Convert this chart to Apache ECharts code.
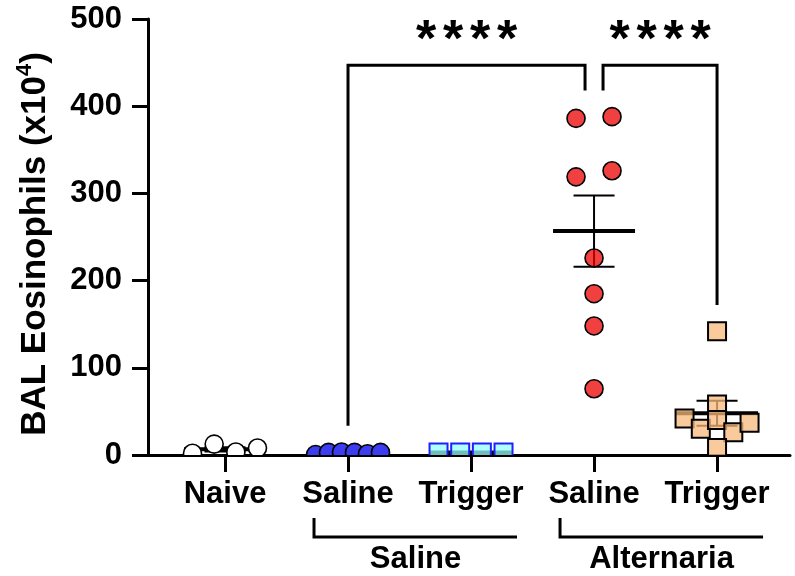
<!DOCTYPE html>
<html>
<head>
<meta charset="utf-8">
<script src="https://cdn.jsdelivr.net/npm/echarts@6/dist/echarts.min.js"></script>
<style>
html, body { margin: 0; padding: 0; background: #fff; }
#main { width: 795px; height: 576px; }
</style>
</head>
<body>
<div id="main"></div>
<script>
// column labels
const groups = ['Naive', 'Saline', 'Trigger', 'Saline', 'Trigger'];
// BAL eosinophils (x10^4), one value per mouse
const naive = [2, 12.5, 3.5, 8];
const salineSaline = [0.5, 3, 3.5, 3, 1.5, 3];
const salineTrigger = [3, 3, 3, 3];
const alternariaSaline = [386, 388, 319, 326, 226, 185, 148, 76];
const alternariaTrigger = [142, 58, 42, 30, 40, 26, 37, 8];
const yTicks = [0, 100, 200, 300, 400, 500];
// significance brackets (column index pairs)
const comparisons = [[1, 3], [3, 4]];
const stars = ['****', '****'];
// treatment labels under the axis
const treatments = ['Saline', 'Alternaria'];
const treatmentCols = [[1, 2], [3, 4]];

const FONT = '"Liberation Sans", Arial, Helvetica, sans-serif';
const values = [naive, salineSaline, salineTrigger, alternariaSaline, alternariaTrigger];
const looks = [
  { symbol: 'circle', fill: '#ffffff', stroke: '#000' },
  { symbol: 'circle', fill: '#3c3cf0', stroke: '#000' },
  { symbol: 'rect', fill: 'rgba(150,255,255,0.75)', stroke: '#1f1fff' },
  { symbol: 'circle', fill: 'rgba(235,0,0,0.75)', stroke: '#000' },
  { symbol: 'rect', fill: 'rgba(247,186,123,0.75)', stroke: '#000' }
];

// prism-like scatter: points close in value share a row, rows are centred,
// inside a row the points keep their table order
function swarm(vals, rowH, halfW, maxStep) {
  const order = vals.map((v, i) => i).sort((a, b) => vals[a] - vals[b]);
  const rows = [];
  order.forEach(i => {
    const r = rows[rows.length - 1];
    if (r && vals[i] - r.start <= rowH) r.items.push(i); else rows.push({ start: vals[i], items: [i] });
  });
  const off = [];
  rows.forEach(r => {
    const items = r.items.slice().sort((a, b) => a - b);
    const step = items.length > 1 ? Math.min(maxStep, 2 * halfW / (items.length - 1)) : 0;
    items.forEach((i, k) => { off[i] = (k - (items.length - 1) / 2) * step; });
  });
  return off;
}

const pointData = [];
values.forEach((vals, g) => {
  const off = swarm(vals, 16, 32.5, 36);
  vals.forEach((v, i) => pointData.push([g, v, off[i]]));
});

const statData = values.map((vals, g) => {
  const n = vals.length;
  const mean = vals.reduce((a, b) => a + b, 0) / n;
  const sd = Math.sqrt(vals.reduce((a, b) => a + (b - mean) * (b - mean), 0) / (n - 1));
  return [g, mean, sd / Math.sqrt(n)];
});

const bracketLevel = 447;

const myChart = echarts.init(document.getElementById('main'));
myChart.setOption({
  animation: false,
  grid: { left: 148, right: 5, top: 19, bottom: 121, outerBoundsMode: 'none' },
  xAxis: {
    type: 'value',
    min: -0.626,
    max: 4.593,
    splitLine: { show: false },
    axisLine: { onZero: false, lineStyle: { color: '#000', width: 3 } },
    axisTick: { customValues: [0, 1, 2, 3, 4], length: 17, lineStyle: { color: '#000', width: 3 } },
    axisLabel: {
      customValues: [0, 1, 2, 3, 4],
      formatter: v => groups[Math.round(v)],
      margin: 24,
      color: '#000',
      fontFamily: FONT,
      fontWeight: 'bold',
      fontSize: 31
    }
  },
  yAxis: {
    type: 'value',
    min: yTicks[0],
    max: yTicks[yTicks.length - 1],
    interval: yTicks[1] - yTicks[0],
    splitLine: { show: false },
    axisLine: { show: true, onZero: false, lineStyle: { color: '#000', width: 3 } },
    axisTick: { show: true, length: 16, lineStyle: { color: '#000', width: 3 } },
    axisLabel: { margin: 26, color: '#000', fontFamily: FONT, fontWeight: 'bold', fontSize: 31 },
    name: '{a|BAL Eosinophils (x10}{s|4}{a|)}',
    nameLocation: 'middle',
    nameGap: 92,
    nameTextStyle: {
      padding: [0, 14, 0, 0],
      rich: {
        a: { fontFamily: FONT, fontWeight: 'bold', fontSize: 35, color: '#000', lineHeight: 42 },
        s: { fontFamily: FONT, fontWeight: 'bold', fontSize: 22, color: '#000', verticalAlign: 'top', lineHeight: 42, padding: [0, 0, 15, 0] }
      }
    }
  },
  series: [
    {
      // mean and SEM
      type: 'custom',
      z: 2,
      encode: { x: 0, y: 1 },
      data: statData,
      renderItem: function (params, api) {
        const g = api.value(0), m = api.value(1), s = api.value(2);
        const c = api.coord([g, m]);
        const hi = api.coord([g, m + s]);
        const lo = api.coord([g, m - s]);
        const st = { stroke: '#000', lineWidth: 2 };
        return {
          type: 'group',
          children: [
            { type: 'line', shape: { x1: c[0], y1: hi[1], x2: c[0], y2: lo[1] }, style: st },
            { type: 'line', shape: { x1: c[0] - 20.5, y1: hi[1], x2: c[0] + 20.5, y2: hi[1] }, style: st },
            { type: 'line', shape: { x1: c[0] - 20.5, y1: lo[1], x2: c[0] + 20.5, y2: lo[1] }, style: st },
            { type: 'line', shape: { x1: c[0] - 41, y1: c[1], x2: c[0] + 41, y2: c[1] }, style: { stroke: '#000', lineWidth: 4 } }
          ]
        };
      }
    },
    {
      // individual mice
      type: 'custom',
      z: 3,
      clip: true,
      encode: { x: 0, y: 1 },
      data: pointData,
      renderItem: function (params, api) {
        const g = api.value(0);
        const p = api.coord([g, api.value(1)]);
        const x = p[0] + api.value(2), y = p[1];
        const lk = looks[g];
        if (lk.symbol === 'circle') {
          return { type: 'circle', shape: { cx: x, cy: y, r: 9 }, style: { fill: lk.fill, stroke: lk.stroke, lineWidth: 1.6 } };
        }
        return { type: 'rect', shape: { x: x - 9, y: y - 9, width: 18, height: 18 }, style: { fill: lk.fill, stroke: lk.stroke, lineWidth: 2 } };
      }
    },
    {
      // significance brackets
      type: 'custom',
      z: 4,
      clip: false,
      encode: { x: 0, y: 1 },
      data: comparisons.map(c => [c[0], bracketLevel]),
      renderItem: function (params, api) {
        const c = comparisons[params.dataIndex];
        const shared = i => comparisons.some((o, j) => j !== params.dataIndex && (o[0] === i || o[1] === i));
        const top = api.coord([c[0], bracketLevel])[1];
        const legA = api.coord([c[0], Math.max(...values[c[0]]) + 30]);
        const legB = api.coord([c[1], Math.max(...values[c[1]]) + 30]);
        const xa = legA[0] + (shared(c[0]) ? 9 : 0);
        const xb = legB[0] - (shared(c[1]) ? 9 : 0);
        const label = stars[params.dataIndex];
        const mid = (xa + xb) / 2;
        const children = [
          { type: 'polyline', shape: { points: [[xa, legA[1]], [xa, top], [xb, top], [xb, legB[1]]] }, style: { stroke: '#000', lineWidth: 3, fill: null } }
        ];
        for (let k = 0; k < label.length; k++) {
          children.push({
            type: 'text',
            x: mid + (k - (label.length - 1) / 2) * 27,
            y: top - 24,
            style: { text: label[k], fill: '#000', font: 'bold 52px ' + FONT, align: 'center', verticalAlign: 'middle' }
          });
        }
        return { type: 'group', children: children };
      }
    },
    {
      // treatment brackets under the axis
      type: 'custom',
      z: 4,
      clip: false,
      encode: { x: 0, y: 1 },
      data: treatmentCols.map(c => [c[0], 0]),
      renderItem: function (params, api) {
        const c = treatmentCols[params.dataIndex];
        const a = api.coord([c[0], 0]);
        const b = api.coord([c[1], 0]);
        const xl = a[0] - 34, xr = b[0] + 46;
        const y0 = a[1] + 63, y1 = a[1] + 82;
        return {
          type: 'group',
          children: [
            { type: 'polyline', shape: { points: [[xl, y0], [xl, y1], [xr, y1]] }, style: { stroke: '#000', lineWidth: 3, fill: null } },
            {
              type: 'text', x: (xl + xr) / 2, y: y1 + 22,
              style: { text: treatments[params.dataIndex], fill: '#000', font: 'bold 31px ' + FONT, align: 'center', verticalAlign: 'middle' }
            }
          ]
        };
      }
    }
  ]
});
</script>
</body>
</html>
